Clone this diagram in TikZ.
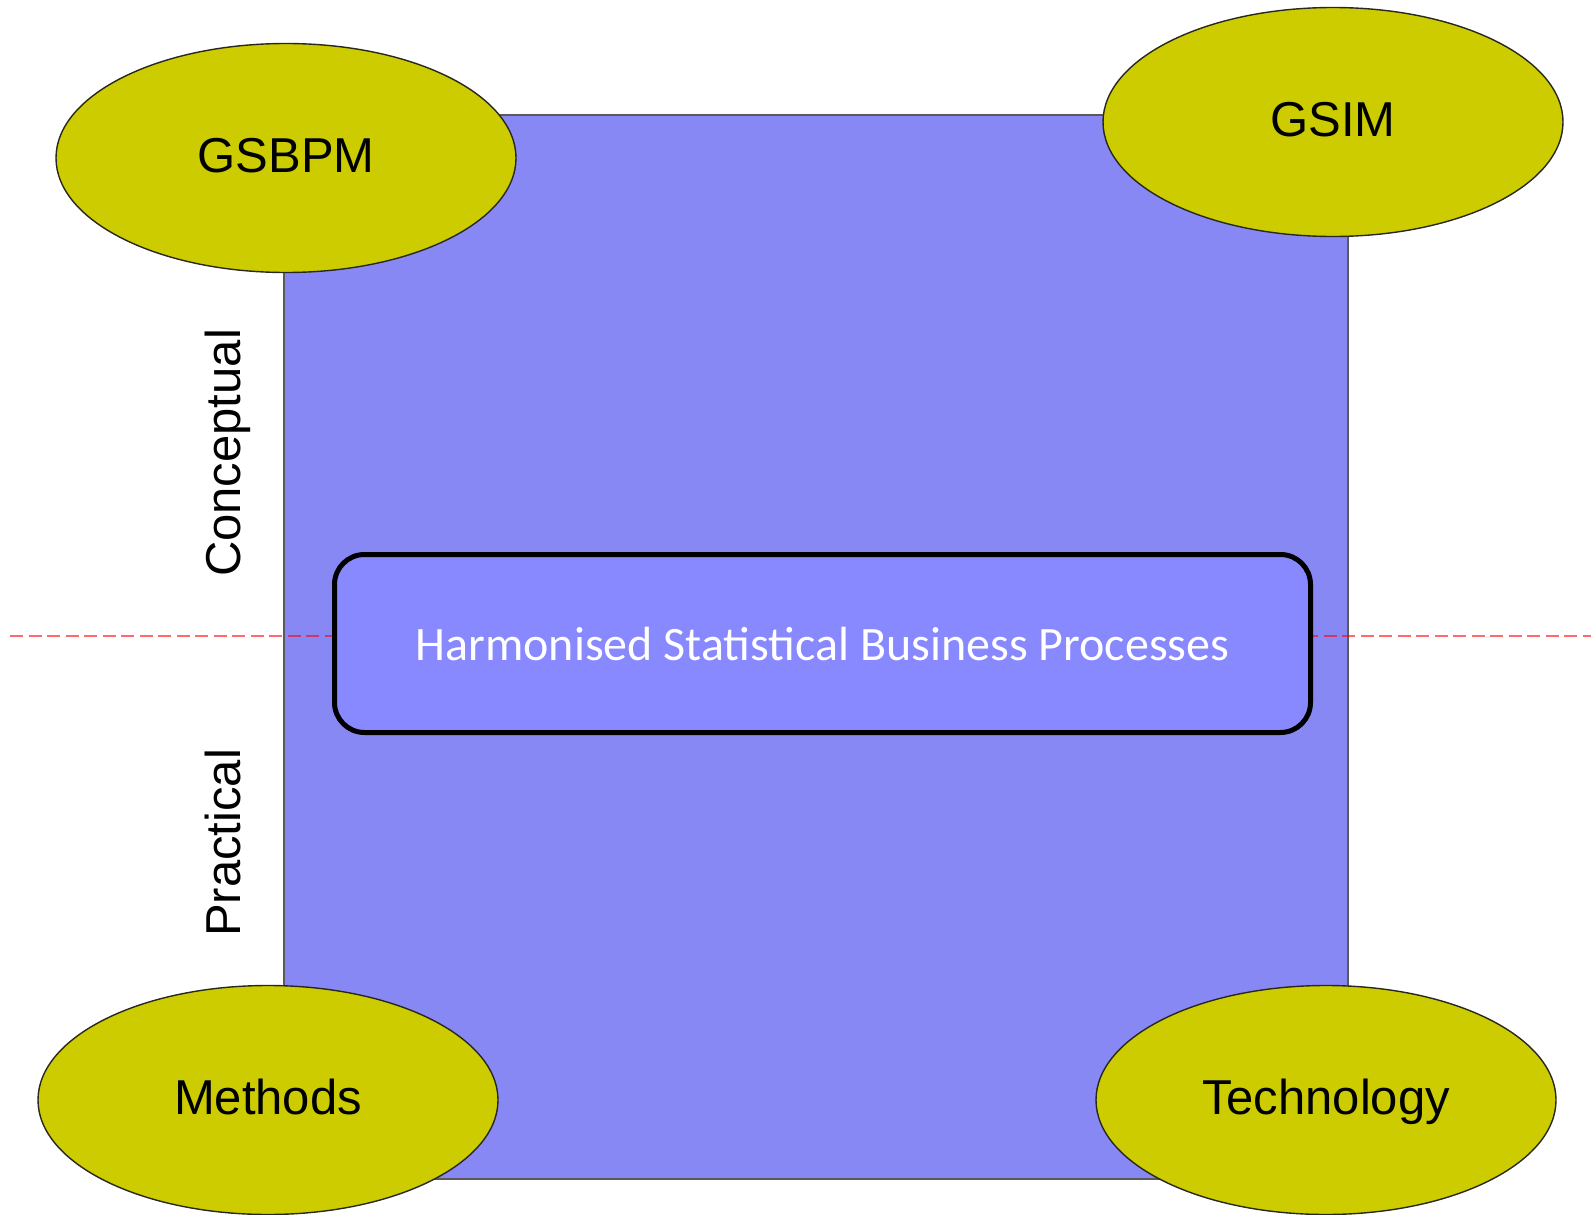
\documentclass[tikz,border=0pt]{standalone}
\usepackage{fontspec}
\setmainfont{Liberation Sans}
\newfontfamily\bodyfont{Carlito}
\usetikzlibrary{shapes.geometric}

\definecolor{framefill}{RGB}{136,136,245}
\definecolor{framedraw}{RGB}{90,90,90}
\definecolor{boxfill}{RGB}{136,136,255}
\definecolor{olive}{RGB}{204,204,0}
\definecolor{ovaldraw}{RGB}{40,40,30}

\tikzset{
  framebox/.style={draw=framedraw, line width=1.8pt, fill=framefill,
    rectangle, inner sep=0pt, minimum width=1064pt, minimum height=1064pt},
  oval/.style={ellipse, draw=ovaldraw, line width=1.4pt, fill=olive,
    inner sep=0pt, minimum width=460pt, minimum height=229pt,
    font=\fontsize{49pt}{59pt}\selectfont, text height=40pt, text depth=12pt},
  sidelabel/.style={rotate=90, anchor=base, inner sep=0pt,
    font=\fontsize{49pt}{59pt}\selectfont},
  procbox/.style={rectangle, rounded corners=30pt, draw=black, line width=5pt,
    fill=boxfill, inner sep=0pt, minimum width=976pt, minimum height=178pt,
    text=white, font=\bodyfont\fontsize{48pt}{58pt}\selectfont,
    text height=34pt, text depth=0pt},
  divider/.style={draw=red, draw opacity=0.58, line width=2.6pt,
    dash pattern=on 13pt off 5.5pt},
}

\begin{document}
\begin{tikzpicture}[x=1pt, y=-1pt]
  % canvas
  \useasboundingbox (0,0) rectangle (1591,1215);

  % square backdrop
  \node[framebox] (frame) at (816,647) {};

  % conceptual / practical divider
  \coordinate (divL) at (10,636);
  \coordinate (divR) at (1591,636);
  \draw[divider] (divL) -- (divR);

  % central process box
  \node[procbox] (hsbp) at (822.5,643.5) {Harmonised Statistical Business Processes};

  % corner models
  \node[oval] (gsbpm) at (286,158)  {GSBPM};
  \node[oval] (gsim)  at (1333,122) {GSIM};
  \node[oval] (meth)  at (268,1100) {Methods};
  \node[oval] (tech)  at (1326,1100) {Technology};

  % side labels
  \node[sidelabel] (concept) at (240,453) {Conceptual};
  \node[sidelabel] (pract)   at (240,843) {Practical};
\end{tikzpicture}
\end{document}
